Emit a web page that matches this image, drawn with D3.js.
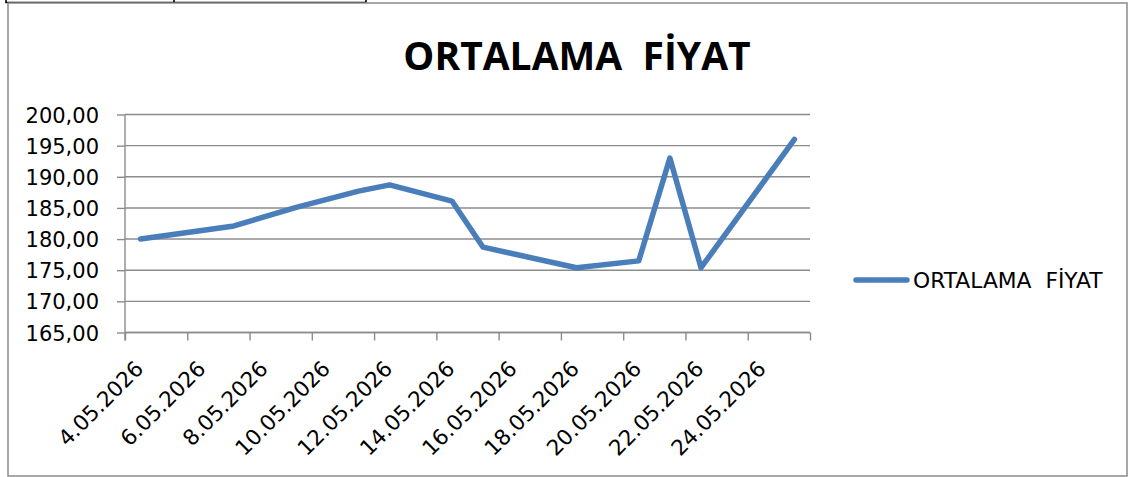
<!DOCTYPE html>
<meta charset="utf-8">
<script src="https://d3js.org/d3.v7.min.js"></script>
<style>
  body { margin: 0; background: #fff; }
  text { white-space: pre; }
</style>
<div id="chart"></div>
<script>

    // data
    const dates = ["4.05.2026", "7.05.2026", "9.05.2026", "11.05.2026", "12.05.2026", "14.05.2026",
        "15.05.2026", "18.05.2026", "20.05.2026", "21.05.2026", "22.05.2026", "25.05.2026"];
    const values = [180.0, 182.1, 185.1, 187.7, 188.7, 186.1, 178.7, 175.4, 176.5, 193.0, 175.4, 196.0];
    const yTicks = [165, 170, 175, 180, 185, 190, 195, 200];
    const tickLabels = ["4.05.2026", "6.05.2026", "8.05.2026", "10.05.2026", "12.05.2026", "14.05.2026",
        "16.05.2026", "18.05.2026", "20.05.2026", "22.05.2026", "24.05.2026"];
    const axisStart = "4.05.2026", axisEnd = "26.05.2026";
    const seriesName = "ORTALAMA  FİYAT";
    const title = "ORTALAMA  FİYAT";

    const W = 1128, H = 477;
    const plot = { left: 125, right: 810, top: 114.5, bottom: 332.5 };
    const parse = d3.timeParse("%d.%m.%Y");
    const halfDay = 12 * 3600 * 1000;
    const tickFont = "'DejaVu Sans', sans-serif";

    const svg = d3.select("#chart").append("svg")
        .attr("width", W).attr("height", H);

    // sheet cell borders peeking in at the top
    svg.append("path")
        .attr("d", "M6,0V2.5H366V0M174,0V2.5")
        .attr("fill", "none").attr("stroke", "#000").attr("stroke-width", 1.6);

    // chart area border
    svg.append("rect")
        .attr("x", 8).attr("y", 3).attr("width", 1119).attr("height", 473)
        .attr("fill", "#fff").attr("stroke", "#8a8a8a").attr("stroke-width", 1.5);

    // title
    svg.append("text")
        .attr("x", 577).attr("y", 70)
        .attr("text-anchor", "middle")
        .attr("font-family", "'Open Sans', sans-serif")
        .attr("font-weight", "bold")
        .attr("font-size", 39)
        .attr("fill", "#000")
        .text(title);

    const x = d3.scaleTime()
        .domain([parse(axisStart), parse(axisEnd)])
        .range([plot.left, plot.right]);
    const y = d3.scaleLinear()
        .domain([165, 200])
        .range([plot.bottom, plot.top]);

    const comma = v => d3.format(".2f")(v).replace(".", ",");

    // horizontal gridlines
    svg.append("g")
        .selectAll("line")
        .data(yTicks)
        .join("line")
        .attr("x1", plot.left).attr("x2", plot.right)
        .attr("y1", d => y(d)).attr("y2", d => y(d))
        .attr("stroke", "#8c8c8c").attr("stroke-width", 1.4);

    // y axis
    const yAxis = svg.append("g")
        .attr("transform", `translate(${plot.left},0)`)
        .call(d3.axisLeft(y).tickValues(yTicks).tickSize(8).tickPadding(18).tickFormat(comma));
    yAxis.select(".domain").attr("stroke", "#8c8c8c").attr("stroke-width", 1.4)
        .attr("d", `M0,${plot.top}V${plot.bottom + 8}`);
    yAxis.selectAll(".tick line").attr("stroke", "#8c8c8c").attr("stroke-width", 1.4);
    yAxis.selectAll(".tick text")
        .attr("font-family", tickFont).attr("font-size", 21).attr("fill", "#000")
        .attr("dy", "0.36em");

    // x axis: ticks every two days, labels centred on their day
    const tickDates = d3.timeDay.range(parse(axisStart), d3.timeDay.offset(parse(axisEnd), 1), 2);
    const xAxis = svg.append("g")
        .attr("transform", `translate(0,${plot.bottom})`)
        .call(d3.axisBottom(x).tickValues(tickDates).tickSize(8).tickFormat(""));
    xAxis.select(".domain").attr("stroke", "#8c8c8c").attr("stroke-width", 1.4)
        .attr("d", `M${plot.left},0H${plot.right}`);
    xAxis.selectAll(".tick line").attr("stroke", "#8c8c8c").attr("stroke-width", 1.4);

    svg.append("g")
        .selectAll("text")
        .data(tickLabels)
        .join("text")
        .attr("transform", d => `translate(${x(+parse(d) + halfDay) + 4},370) rotate(-45)`)
        .attr("text-anchor", "end")
        .attr("font-family", tickFont).attr("font-size", 21.5).attr("fill", "#000")
        .text(d => d);

    // the series line
    const points = dates.map((d, i) => ({ date: parse(d), value: values[i] }));
    svg.append("path")
        .datum(points)
        .attr("fill", "none")
        .attr("stroke", "#4a7ebb")
        .attr("stroke-width", 5.5)
        .attr("stroke-linecap", "round")
        .attr("stroke-linejoin", "round")
        .attr("d", d3.line()
            .x(d => x(+d.date + halfDay))
            .y(d => y(d.value)));

    // legend
    svg.append("line")
        .attr("x1", 856).attr("x2", 907).attr("y1", 280).attr("y2", 280)
        .attr("stroke", "#4a7ebb").attr("stroke-width", 5.5).attr("stroke-linecap", "round");
    svg.append("text")
        .attr("x", 913).attr("y", 288.3)
        .attr("font-family", tickFont).attr("font-size", 21.8).attr("fill", "#000")
        .text(seriesName);

</script>
